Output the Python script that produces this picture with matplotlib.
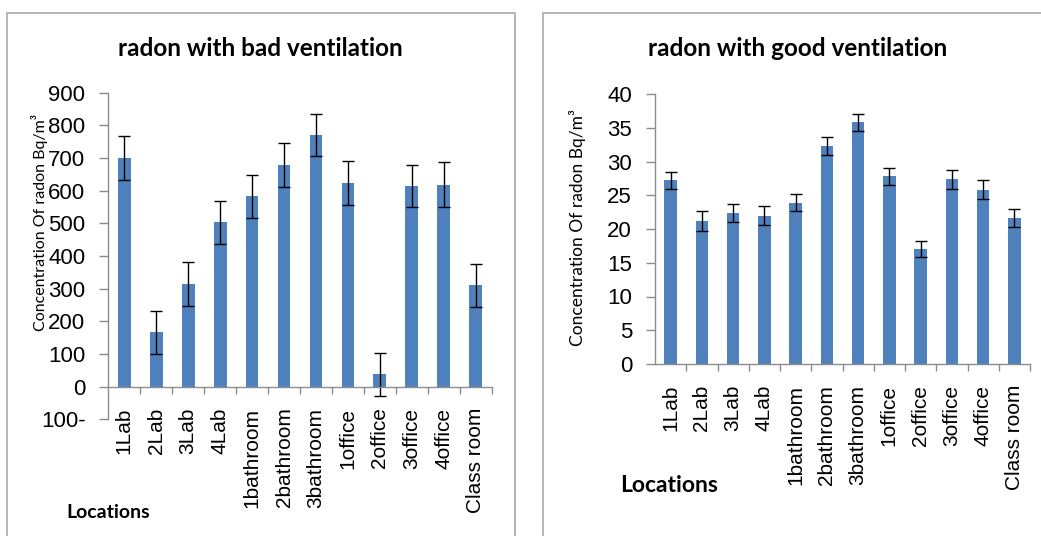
import numpy as np
import matplotlib
matplotlib.use("Agg")
import matplotlib.pyplot as plt
from matplotlib.patches import Rectangle

# Données
locations = ["1Lab", "2Lab", "3Lab", "4Lab", "1bathroom", "2bathroom", "3bathroom",
             "1office", "2office", "3office", "4office", "Class room"]
bad_vent = [700, 166, 315, 503, 583, 679, 771, 623, 38, 615, 619, 310]
bad_err = [67, 67, 67, 66, 66, 67, 64, 67, 66, 65, 68, 67]
good_vent = [27.2, 21.2, 22.4, 22.0, 23.9, 32.3, 35.8, 27.8, 17.0, 27.4, 25.8, 21.6]
good_err = [1.3, 1.5, 1.3, 1.4, 1.3, 1.3, 1.3, 1.3, 1.2, 1.4, 1.4, 1.3]
bad_ticks = list(range(-100, 1000, 100))
bad_ticklabels = ["100-"] + [str(v) for v in range(0, 1000, 100)]
good_ticks = list(range(0, 45, 5))

BAR_COLOR = "#4F81BD"
AXIS_COLOR = "#8c8c8c"
TICK_FONT = "Liberation Sans"
TEXT_FONT = ["Lato", "DejaVu Sans"]

W, H = 1041, 536
fig = plt.figure(figsize=(W / 100, H / 100), dpi=100)

# cadres des deux graphiques
fig.add_artist(Rectangle((7 / W, -0.05), (515 - 7) / W, 1.05 - 12.7 / H,
                         transform=fig.transFigure, fill=False,
                         edgecolor="#a8a8a8", lw=1.2))
fig.add_artist(Rectangle((543 / W, -0.05), 0.6, 1.05 - 12.7 / H,
                         transform=fig.transFigure, fill=False,
                         edgecolor="#a8a8a8", lw=1.2))


def draw_panel(ax, values, errors, ticks, ticklabels, ylim):
    x = np.arange(len(locations))
    ax.bar(x, values, width=0.4, color=BAR_COLOR, yerr=errors,
           error_kw=dict(ecolor="black", elinewidth=1, capsize=4, capthick=1))
    ax.set_xlim(-0.5, len(locations) - 0.5)
    ax.set_ylim(*ylim)
    for s in ["top", "right"]:
        ax.spines[s].set_visible(False)
    ax.spines["bottom"].set_position(("data", 0))
    for s in ["left", "bottom"]:
        ax.spines[s].set_color(AXIS_COLOR)
        ax.spines[s].set_linewidth(1)
    ax.set_xticks(x)
    ax.set_xticklabels(locations, rotation=90, ha="center", va="top",
                       fontsize=15, family=TICK_FONT)
    ax.set_xticks(np.arange(0.5, len(locations), 1), minor=True)
    ax.tick_params(axis="x", which="major", length=0, pad=15)
    ax.tick_params(axis="x", which="minor", length=5, color=AXIS_COLOR, width=1)
    ax.set_yticks(ticks)
    ax.set_yticklabels(ticklabels, fontsize=16, family=TICK_FONT)
    ax.tick_params(axis="y", length=6.5, pad=10, color=AXIS_COLOR, width=1)


# FENÊTRE 1 : mauvaise ventilation
ax1 = fig.add_axes([108.3 / W, (H - 419.4) / H, (491.7 - 108.3) / W, (419.4 - 92.7) / H])
draw_panel(ax1, bad_vent, bad_err, bad_ticks, bad_ticklabels, (-100, 900))

# FENÊTRE 2 : bonne ventilation
ax2 = fig.add_axes([655 / W, (H - 364) / H, (1030 - 655) / W, (364 - 94) / H])
draw_panel(ax2, good_vent, good_err, good_ticks, [str(v) for v in good_ticks], (0, 40))

fig.text(260 / W, 1 - 49 / H, "radon with bad ventilation", ha="center", va="center",
         fontsize=17.5, fontweight="bold", family=TEXT_FONT)
fig.text(798 / W, 1 - 49 / H, "radon with good ventilation", ha="center", va="center",
         fontsize=17.5, fontweight="bold", family=TEXT_FONT)

fig.text(40 / W, 1 - 222 / H, "Concentration Of radon Bq/m³", rotation=90,
         ha="center", va="center", fontsize=11.5, family=TEXT_FONT)
fig.text(577 / W, 1 - 228 / H, "Concentration Of radon Bq/m³", rotation=90,
         ha="center", va="center", fontsize=12.5, family=TEXT_FONT)

fig.text(108 / W, 1 - 512 / H, "Locations", ha="center", va="center",
         fontsize=14, fontweight="bold", family=TEXT_FONT)
fig.text(669 / W, 1 - 486 / H, "Locations", ha="center", va="center",
         fontsize=16.5, fontweight="bold", family=TEXT_FONT)

fig.savefig("out.png", dpi=100)
